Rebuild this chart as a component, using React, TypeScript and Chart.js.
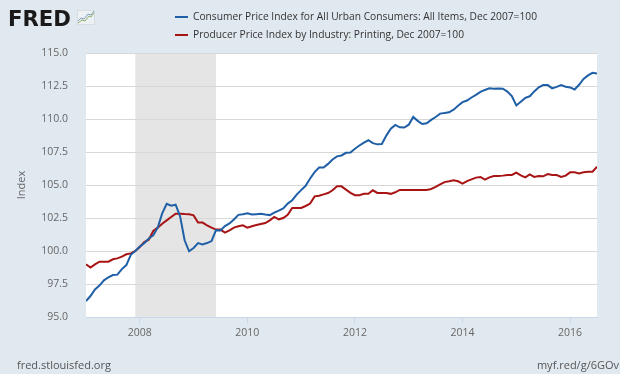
import React, { useEffect, useRef } from "react";
import { Chart, registerables } from "chart.js";

Chart.register(...registerables);

const START_YEAR = 2007;
const X_MIN = 2007;
const X_MAX = 2016.5;
const X_TICKS = [2008, 2010, 2012, 2014, 2016];
const Y_MIN = 95;
const Y_MAX = 115;
const Y_STEP = 2.5;
const RECESSION_START = 2007 + 11 / 12;
const RECESSION_END = 2009 + 5 / 12;

const cpiLabel = "Consumer Price Index for All Urban Consumers: All Items, Dec 2007=100";
const ppiLabel = "Producer Price Index by Industry: Printing, Dec 2007=100";

// Monthly, Jan 2007 – Jul 2016
const cpi = [
  96.21, 96.59, 97.09, 97.38, 97.78, 98.01, 98.18, 98.21, 98.63, 98.93, 99.71, 100.0,
  100.34, 100.59, 100.95, 101.18, 101.78, 102.85, 103.58, 103.43, 103.51, 102.62, 100.81, 99.98,
  100.23, 100.6, 100.5, 100.6, 100.75, 101.58, 101.55, 101.89, 102.09, 102.39, 102.74, 102.79,
  102.86, 102.76, 102.79, 102.82, 102.76, 102.72, 102.91, 103.06, 103.23, 103.59, 103.85, 104.27,
  104.61, 104.94, 105.49, 105.98, 106.32, 106.32, 106.6, 106.93, 107.17, 107.24, 107.44, 107.46,
  107.75, 107.99, 108.21, 108.39, 108.17, 108.08, 108.11, 108.74, 109.26, 109.55, 109.37, 109.35,
  109.57, 110.16, 109.86, 109.62, 109.67, 109.93, 110.15, 110.41, 110.45, 110.51, 110.71, 111.01,
  111.28, 111.4, 111.63, 111.83, 112.05, 112.2, 112.32, 112.3, 112.31, 112.29, 112.08, 111.73,
  111.02, 111.3, 111.6, 111.72, 112.09, 112.4, 112.57, 112.57, 112.32, 112.43, 112.57, 112.45,
  112.39, 112.24, 112.59, 113.03, 113.3, 113.5, 113.45,
];

const ppi = [
  98.99, 98.74, 98.99, 99.19, 99.19, 99.19, 99.37, 99.44, 99.57, 99.75, 99.82, 100.0,
  100.3, 100.68, 100.86, 101.52, 101.77, 102.07, 102.32, 102.58, 102.83, 102.83, 102.8, 102.78,
  102.7, 102.15, 102.15, 101.95, 101.77, 101.62, 101.62, 101.39, 101.57, 101.77, 101.87, 101.94,
  101.77, 101.87, 101.97, 102.05, 102.12, 102.32, 102.58, 102.4, 102.5, 102.75, 103.26, 103.26,
  103.26, 103.41, 103.59, 104.14, 104.19, 104.29, 104.39, 104.6, 104.9, 104.9, 104.65, 104.4,
  104.23, 104.23, 104.33, 104.33, 104.6, 104.4, 104.4, 104.4, 104.33, 104.45, 104.63, 104.63,
  104.63, 104.63, 104.63, 104.63, 104.63, 104.7, 104.85, 105.05, 105.22, 105.28, 105.35, 105.28,
  105.1, 105.3, 105.43, 105.56, 105.61, 105.4, 105.58, 105.68, 105.68, 105.71, 105.76, 105.76,
  105.93, 105.73, 105.58, 105.81, 105.61, 105.68, 105.66, 105.83, 105.76, 105.76, 105.61, 105.71,
  105.96, 105.96, 105.88, 105.96, 106.01, 106.01, 106.39,
];

const CPI_COLOR = "#1f5fa6";
const PPI_COLOR = "#a81414";
const PAGE_BG = "#e1e9f0";
const FONT = '"Open Sans", "DejaVu Sans", sans-serif';

const toPoints = (arr: number[]) =>
  arr.map((v, i) => ({ x: START_YEAR + i / 12, y: v }));

const decorPlugin = {
  id: "decor",
  beforeDraw(chart: any) {
    const { ctx, chartArea: a, scales } = chart;
    ctx.save();
    ctx.fillStyle = PAGE_BG;
    ctx.fillRect(0, 0, chart.width, chart.height);
    ctx.fillStyle = "#ffffff";
    ctx.fillRect(a.left, a.top, a.right - a.left, a.bottom - a.top);
    const x0 = scales.x.getPixelForValue(RECESSION_START);
    const x1 = scales.x.getPixelForValue(RECESSION_END);
    ctx.fillStyle = "#e5e5e5";
    ctx.fillRect(x0, a.top, x1 - x0, a.bottom - a.top);
    ctx.restore();
  },
  afterDraw(chart: any) {
    const { ctx } = chart;
    ctx.save();
    // FRED logo
    ctx.fillStyle = "#1a1a1a";
    ctx.font = 'bold 22px "DejaVu Sans", sans-serif';
    ctx.textBaseline = "alphabetic";
    ctx.textAlign = "left";
    ctx.fillText("FRED", 8, 26, 63);
    // icon
    ctx.fillStyle = "#eef1f3";
    ctx.fillRect(77, 10, 18, 15);
    ctx.strokeStyle = "#d2d8dc";
    ctx.lineWidth = 0.8;
    ctx.strokeRect(77.5, 10.5, 17, 14);
    ctx.lineWidth = 1;
    ctx.strokeStyle = "#8fb06a";
    ctx.beginPath();
    ctx.moveTo(78, 23); ctx.lineTo(82, 20); ctx.lineTo(85, 21); ctx.lineTo(89, 16); ctx.lineTo(91, 17); ctx.lineTo(94, 13);
    ctx.stroke();
    ctx.strokeStyle = "#7f9fc0";
    ctx.beginPath();
    ctx.moveTo(78, 21); ctx.lineTo(81, 18); ctx.lineTo(84, 19); ctx.lineTo(88, 14); ctx.lineTo(91, 15); ctx.lineTo(94, 11);
    ctx.stroke();

    // legend
    ctx.lineWidth = 2;
    ctx.strokeStyle = CPI_COLOR;
    ctx.beginPath(); ctx.moveTo(175, 17); ctx.lineTo(188, 17); ctx.stroke();
    ctx.strokeStyle = PPI_COLOR;
    ctx.beginPath(); ctx.moveTo(175, 35); ctx.lineTo(188, 35); ctx.stroke();
    ctx.fillStyle = "#333333";
    ctx.font = `11.5px ${FONT}`;
    ctx.textBaseline = "middle";
    ctx.fillText(cpiLabel, 193, 17, 344);
    ctx.fillText(ppiLabel, 193, 35, 271);

    // y title
    ctx.save();
    ctx.translate(22, 185);
    ctx.rotate(-Math.PI / 2);
    ctx.textAlign = "center";
    ctx.fillStyle = "#666666";
    ctx.font = `11px ${FONT}`;
    ctx.fillText("Index", 0, 0);
    ctx.restore();

    // footer
    ctx.fillStyle = "#555555";
    ctx.font = `11px ${FONT}`;
    ctx.textAlign = "left";
    ctx.fillText("fred.stlouisfed.org", 17, 366);
    ctx.textAlign = "right";
    ctx.fillText("myf.red/g/6GOv", 619, 366);
    ctx.restore();
  },
};

export default function App() {
  const ref = useRef<HTMLCanvasElement>(null);

  useEffect(() => {
    if (!ref.current) return;
    const chart = new Chart(ref.current, {
      type: "line",
      data: {
        datasets: [
          {
            label: cpiLabel,
            data: toPoints(cpi),
            borderColor: CPI_COLOR,
            borderWidth: 2,
            pointRadius: 0,
            tension: 0,
            fill: false,
          },
          {
            label: ppiLabel,
            data: toPoints(ppi),
            borderColor: PPI_COLOR,
            borderWidth: 2,
            pointRadius: 0,
            tension: 0,
            fill: false,
          },
        ],
      },
      options: {
        responsive: false,
        animation: false,
        events: [],
        layout: { padding: { top: 53, right: 23, bottom: 0, left: 0 } },
        plugins: {
          legend: { display: false },
          tooltip: { enabled: false },
          title: { display: false },
        },
        scales: {
          x: {
            type: "linear",
            min: X_MIN,
            max: X_MAX,
            afterBuildTicks: (scale: any) => {
              scale.ticks = X_TICKS.map((v) => ({ value: v }));
            },
            afterFit: (scale: any) => {
              scale.height = 57;
            },
            ticks: {
              autoSkip: false,
              maxRotation: 0,
              padding: 4,
              color: "#666666",
              font: { family: FONT, size: 10.5 },
              callback: (v: any) => String(v),
            },
            grid: {
              drawOnChartArea: false,
              drawTicks: true,
              tickLength: 6,
              color: "#ccd6eb",
            },
            border: { display: true, color: "#ccd6eb" },
          },
          y: {
            min: Y_MIN,
            max: Y_MAX,
            afterFit: (scale: any) => {
              scale.width = 86;
            },
            ticks: {
              stepSize: Y_STEP,
              padding: 18,
              color: "#666666",
              font: { family: FONT, size: 10.5 },
              callback: (v: any) => Number(v).toFixed(1),
            },
            grid: { color: "#d8d8d8", drawTicks: false, lineWidth: 1 },
            border: { display: false },
          },
        },
      },
      plugins: [decorPlugin],
    });
    return () => chart.destroy();
  }, []);

  return (
    <div style={{ position: "fixed", left: 0, top: 0, width: 620, height: 374, background: PAGE_BG }}>
      <canvas ref={ref} width={620} height={374} style={{ display: "block" }} />
    </div>
  );
}
